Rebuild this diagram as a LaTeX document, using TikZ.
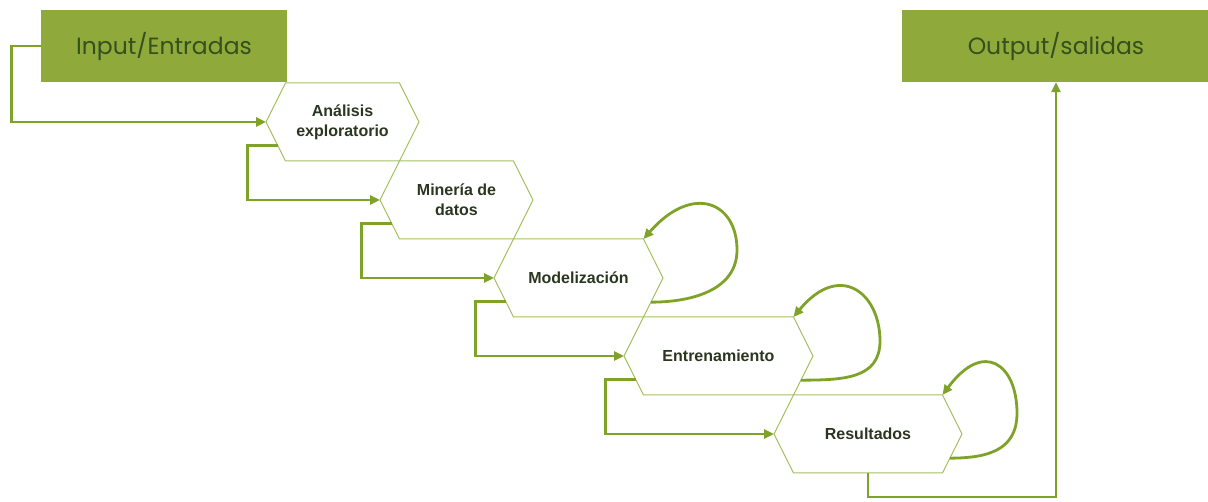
\documentclass[tikz,border=0pt]{standalone}
\usepackage{fontspec}
\setmainfont{Liberation Sans}
\newfontfamily\popfont{Poppins}
\usetikzlibrary{arrows.meta,calc}
\definecolor{boxfill}{HTML}{8FAA3B}
\definecolor{boxtext}{HTML}{34501E}
\definecolor{conn}{HTML}{7FA328}
\definecolor{hexline}{HTML}{A3BE5F}
\definecolor{hextext}{HTML}{2B3620}
\tikzset{
  iobox/.style={fill=boxfill, draw=none, inner sep=0pt, text=boxtext,
    font=\popfont\fontsize{23.5}{26}\selectfont},
  hexedge/.style={draw=hexline, line width=1pt, line join=miter},
  hexlabel/.style={text=hextext, align=center, inner sep=0pt,
    font=\bfseries\fontsize{16}{20}\selectfont},
  connector/.style={draw=conn, line width=2.8pt,
    -{Triangle[length=10pt,width=9pt]}},
}
\newcommand\hexa[5]{%
  \coordinate (#1-l) at (#2,#4);
  \coordinate (#1-tl) at ({#2+19.5},{#4-39});
  \coordinate (#1-tr) at ({#3-19.5},{#4-39});
  \coordinate (#1-r) at (#3,#4);
  \coordinate (#1-br) at ({#3-19.5},{#4+39});
  \coordinate (#1-bl) at ({#2+19.5},{#4+39});
  \draw[hexedge] (#1-l) -- (#1-tl) -- (#1-tr) -- (#1-r) -- (#1-br) -- (#1-bl) -- cycle;
  \node[hexlabel] (#1) at ({(#2+#3)/2},#4) {#5};
}
\newcommand\stepdown[2]{%
  \draw[connector] ($(#1-l)!0.6!(#1-bl)$) -- ++(-30,0) |- (#2-l);
}
\newcommand\selfloop[3]{%
  \draw[connector] ($(#1-r)!0.62!(#1-br)$)
    .. controls ($(#1-r)+({0.45*#2},24)$) and ($(#1-r)+(#2,{#3+38})$) .. ($(#1-r)+(#2,#3)$)
    .. controls ($(#1-r)+(#2,{#3-48})$) and ($(#1-r)+({0.4*#2},-95)$) .. (#1-tr);
}
\begin{document}
\begin{tikzpicture}[x=1pt,y=-1pt]
\useasboundingbox (0,0) rectangle (1208,502);
\node[iobox, minimum width=246pt, minimum height=72pt] (in) at (164,46) {Input/Entradas};
\node[iobox, minimum width=308pt, minimum height=72pt] (out) at (1056,46) {Output/salidas};

\hexa{h1}{266}{419}{122}{Análisis\\exploratorio}
\hexa{h2}{380}{533}{200}{Minería de\\datos}
\hexa{h3}{494}{663}{278}{Modelización}
\hexa{h4}{624}{813}{356}{Entrenamiento}
\hexa{h5}{774}{962}{434}{Resultados}

\draw[connector] (in.west) -- ++(-29,0) |- (h1-l);
\stepdown{h1}{h2}
\stepdown{h2}{h3}
\stepdown{h3}{h4}
\stepdown{h4}{h5}
\draw[connector] ($(h5-bl)!0.5!(h5-br)$) -- ++(0,24) -| (out.south);

\selfloop{h3}{74}{-28}
\selfloop{h4}{67}{-15}
\selfloop{h5}{55}{-21}
\end{tikzpicture}
\end{document}
